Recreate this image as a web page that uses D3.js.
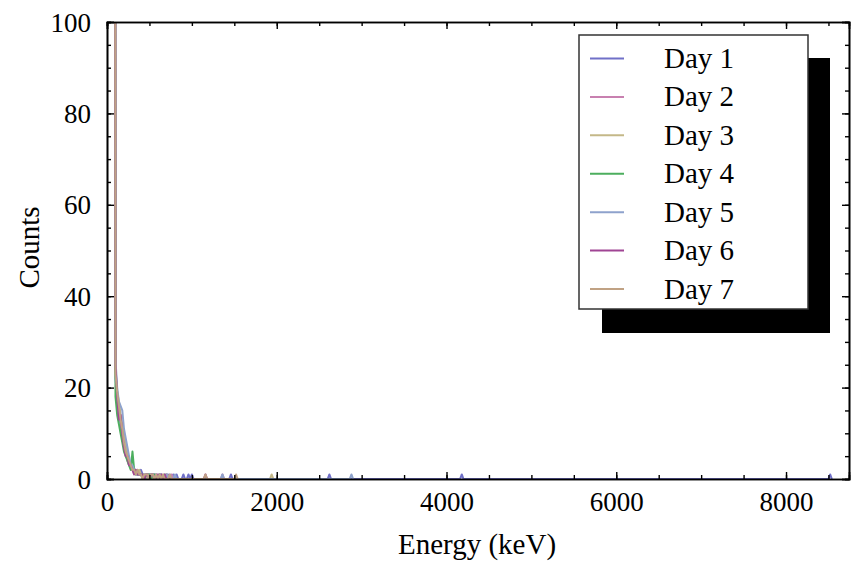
<!DOCTYPE html>
<html>
<head>
<meta charset="utf-8">
<script src="https://cdn.jsdelivr.net/npm/d3@7"></script>
<style>
  html, body { margin: 0; padding: 0; background: #fff; }
  svg { display: block; }
  text { font-family: "Liberation Serif", "Times New Roman", serif; fill: #000; }
</style>
</head>
<body>
<svg id="chart" width="858" height="562"></svg>
<script>
// Spectrum bins: first bin centre and bin width (keV)
const binStart = 80;
const binWidth = 20;

// Counts per bin in the low-energy region, one array per day
const day1 = [540, 22, 18, 15, 12, 10, 8, 6, 5, 4, 3, 2, 2, 2, 1, 1, 2, 1, 1, 0, 1, 1, 1, 0, 1, 1, 0, 1, 1, 0, 0, 1, 1, 0, 0, 1, 0, 1, 0, 0, 0, 1, 0, 0, 1];
const day2 = [610, 24, 19, 15, 13, 9, 7, 6, 4, 3, 3, 2, 2, 1, 2, 1, 1, 1, 0, 1, 1, 0, 1, 1, 1, 0, 1, 0, 0, 1, 0, 1, 0, 0, 1];
const day3 = [480, 23, 19, 17, 14, 12, 10, 8, 6, 4, 3, 2, 1, 2, 1, 2, 1, 0, 1, 1, 0, 1, 1, 0, 0, 1, 0, 1, 0, 0, 0, 1];
const day4 = [560, 18, 14, 12, 10, 8, 6, 5, 4, 3, 2, 6, 2, 1, 1, 1, 1, 1, 0, 1, 1, 1, 0, 1, 1, 0, 0, 1, 0, 0, 1];
const day5 = [590, 26, 20, 17, 16, 15, 11, 9, 7, 5, 3, 3, 2, 1, 1, 1, 1, 0, 1, 1, 1, 0, 1, 1, 0, 1, 0, 1, 1, 0, 0, 1, 0, 1, 0, 0, 1];
const day6 = [620, 25, 18, 13, 14, 10, 7, 5, 5, 3, 3, 2, 1, 2, 1, 1, 1, 1, 0, 1, 1, 0, 1, 1, 0, 0, 1, 0, 1, 0, 1];
const day7 = [650, 23, 19, 16, 13, 11, 8, 6, 5, 4, 3, 2, 2, 1, 2, 1, 1, 0, 1, 1, 1, 0, 1, 1, 0, 1, 0, 1, 0, 1, 0, 0, 0, 1];

// Isolated single-count bins at higher energies (keV); all other bins are empty
const day1Hits = [1000, 1460, 2620, 4180, 8520];
const day2Hits = [1360];
const day3Hits = [1940];
const day4Hits = [];
const day5Hits = [1360, 2880];
const day6Hits = [1160];
const day7Hits = [1160, 1520];

const dayNames = ["Day 1", "Day 2", "Day 3", "Day 4", "Day 5", "Day 6", "Day 7"];
const dayColors = ["#7070c8", "#c880b0", "#c4b888", "#4cae5e", "#8ea2cc", "#a04494", "#c0a284"];

const xTicks = [0, 2000, 4000, 6000, 8000];
const yTicks = [0, 20, 40, 60, 80, 100];

const lowCounts = [day1, day2, day3, day4, day5, day6, day7];
const hitLists = [day1Hits, day2Hits, day3Hits, day4Hits, day5Hits, day6Hits, day7Hits];

const series = dayNames.map((name, i) => {
  const pts = lowCounts[i].map((c, k) => [binStart + k * binWidth, c]);
  const last = pts[pts.length - 1][0];
  pts.push([last + binWidth, 0]);
  hitLists[i].forEach(e => {
    pts.push([e - binWidth, 0], [e, 1], [e + binWidth, 0]);
  });
  return { name, color: dayColors[i], points: pts };
});

const svg = d3.select("#chart");
const margin = { left: 107, right: 9, top: 22, bottom: 83 };
const W = 858, H = 562;
const xMax = 8742;
const x = d3.scaleLinear().domain([0, xMax]).range([margin.left, W - margin.right]);
const y = d3.scaleLinear().domain([0, 100]).range([H - margin.bottom, margin.top]);

svg.append("defs").append("clipPath").attr("id", "plotClip")
  .append("rect")
  .attr("x", x(0)).attr("y", y(100))
  .attr("width", x(xMax) - x(0)).attr("height", y(0) - y(100));

const line = d3.line().x(d => x(d[0])).y(d => y(d[1]));

const plot = svg.append("g").attr("clip-path", "url(#plotClip)");
series.forEach(s => {
  plot.append("path")
    .attr("d", line(s.points))
    .attr("fill", "none")
    .attr("stroke", s.color)
    .attr("stroke-width", 2)
    .attr("stroke-linejoin", "round");
});

// Frame with inward ticks on all four sides
const frame = svg.append("g");
const majorLen = 7, minorLen = 4;
const xMinor = d3.range(0, xMax, 500);
const yMinor = d3.range(0, 101, 5);

function addAxis(axis, pos) {
  return frame.append("g").attr("transform", pos).call(axis);
}

// bottom
addAxis(d3.axisBottom(x).tickValues(xMinor).tickSize(-minorLen).tickFormat(""), `translate(0,${y(0)})`);
const gb = addAxis(d3.axisBottom(x).tickValues(xTicks).tickSize(-majorLen).tickPadding(majorLen + 10).tickFormat(d3.format("d")), `translate(0,${y(0)})`);
// top
addAxis(d3.axisTop(x).tickValues(xMinor).tickSize(-minorLen).tickFormat(""), `translate(0,${y(100)})`);
addAxis(d3.axisTop(x).tickValues(xTicks).tickSize(-majorLen).tickFormat(""), `translate(0,${y(100)})`);
// left
addAxis(d3.axisLeft(y).tickValues(yMinor).tickSize(-minorLen).tickFormat(""), `translate(${x(0)},0)`);
const gl = addAxis(d3.axisLeft(y).tickValues(yTicks).tickSize(-majorLen).tickPadding(majorLen + 9).tickFormat(d3.format("d")), `translate(${x(0)},0)`);
// right
addAxis(d3.axisRight(y).tickValues(yMinor).tickSize(-minorLen).tickFormat(""), `translate(${x(xMax)},0)`);
addAxis(d3.axisRight(y).tickValues(yTicks).tickSize(-majorLen).tickFormat(""), `translate(${x(xMax)},0)`);

frame.selectAll(".domain").attr("stroke", "#000").attr("stroke-width", 1.6);
frame.selectAll(".tick line").attr("stroke", "#000").attr("stroke-width", 1.4);
frame.selectAll(".tick text")
  .attr("font-family", "Liberation Serif, serif")
  .attr("font-size", 27)
  .attr("fill", "#000");
gb.selectAll(".tick text").attr("dy", "0.55em");
gl.selectAll(".tick text").attr("dy", "0.34em");

// axis titles
svg.append("text")
  .attr("x", (x(0) + x(xMax)) / 2 - 1).attr("y", 554)
  .attr("text-anchor", "middle")
  .attr("font-size", 29)
  .text("Energy (keV)");
svg.append("text")
  .attr("transform", `translate(39,${(y(0) + y(100)) / 2 - 3}) rotate(-90)`)
  .attr("text-anchor", "middle")
  .attr("font-size", 29)
  .text("Counts");

// legend with drop shadow
const legend = svg.append("g");
legend.append("rect")
  .attr("x", 602).attr("y", 58).attr("width", 228).attr("height", 275)
  .attr("fill", "#000");
legend.append("rect")
  .attr("x", 579).attr("y", 35).attr("width", 229).attr("height", 274)
  .attr("fill", "#fff").attr("stroke", "#333").attr("stroke-width", 1.5);

const rowY = d3.scaleLinear().domain([0, dayNames.length - 1]).range([58.5, 289]);
series.forEach((s, i) => {
  legend.append("line")
    .attr("x1", 590).attr("x2", 624)
    .attr("y1", rowY(i)).attr("y2", rowY(i))
    .attr("stroke", s.color).attr("stroke-width", 2);
  legend.append("text")
    .attr("x", 664).attr("y", rowY(i))
    .attr("dy", "0.33em")
    .attr("font-size", 29)
    .text(s.name);
});
</script>
</body>
</html>
